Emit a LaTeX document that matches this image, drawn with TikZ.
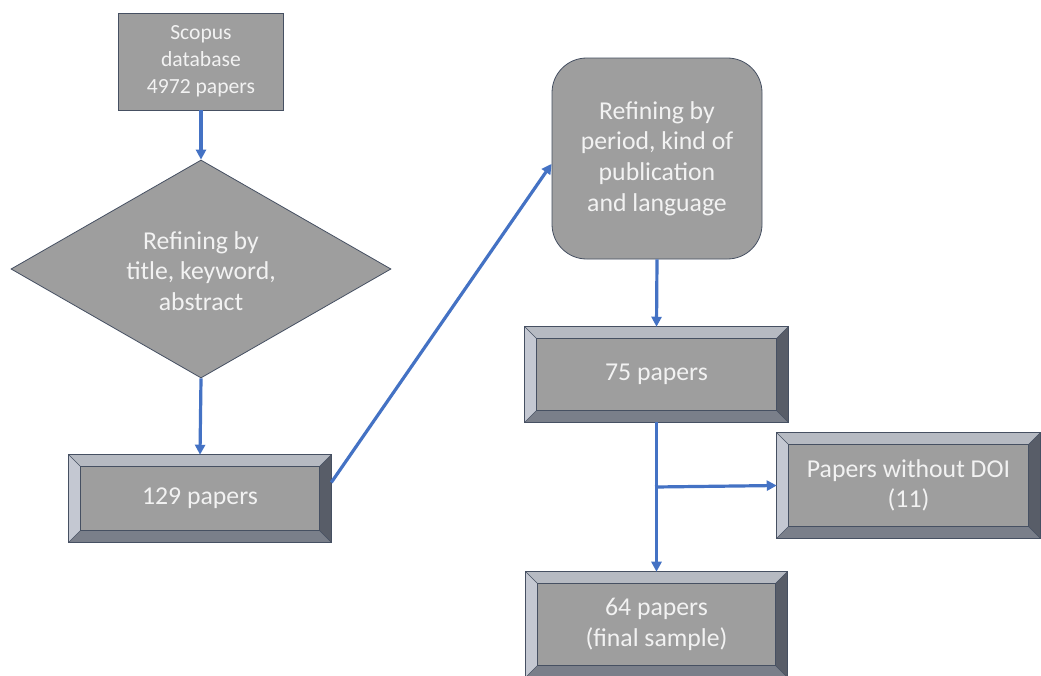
\documentclass[tikz,border=0pt]{standalone}
\usepackage{fontspec}
\setmainfont{Carlito}
\usetikzlibrary{shapes.geometric,arrows.meta}
\definecolor{face}{RGB}{158,158,158}
\definecolor{bvtop}{RGB}{182,186,194}
\definecolor{bvleft}{RGB}{196,200,210}
\definecolor{bvright}{RGB}{88,93,104}
\definecolor{bvbot}{RGB}{122,127,138}
\definecolor{edge}{RGB}{70,80,98}
\definecolor{arrowblue}{RGB}{68,114,196}
\definecolor{txt}{RGB}{242,242,242}
\newcommand{\bevelframe}[1]{%
  \fill[bvtop] (#1.north west) -- (#1.north east) -- ([shift={(-9pt,-9pt)}]#1.north east) -- ([shift={(9pt,-9pt)}]#1.north west) -- cycle;
  \fill[bvbot] (#1.south west) -- (#1.south east) -- ([shift={(-9pt,9pt)}]#1.south east) -- ([shift={(9pt,9pt)}]#1.south west) -- cycle;
  \fill[bvleft] (#1.north west) -- (#1.south west) -- ([shift={(9pt,9pt)}]#1.south west) -- ([shift={(9pt,-9pt)}]#1.north west) -- cycle;
  \fill[bvright] (#1.north east) -- (#1.south east) -- ([shift={(-9pt,9pt)}]#1.south east) -- ([shift={(-9pt,-9pt)}]#1.north east) -- cycle;
  \draw[edge,line width=0.6pt] (#1.north west) rectangle (#1.south east);
  \draw[edge,line width=0.6pt] ([shift={(9pt,-9pt)}]#1.north west) rectangle ([shift={(-9pt,9pt)}]#1.south east);
  \draw[edge,line width=0.4pt] (#1.north west) -- ([shift={(9pt,-9pt)}]#1.north west)
     (#1.north east) -- ([shift={(-9pt,-9pt)}]#1.north east)
     (#1.south west) -- ([shift={(9pt,9pt)}]#1.south west)
     (#1.south east) -- ([shift={(-9pt,9pt)}]#1.south east);
}
\tikzset{
  bigtext/.style={text=txt,font=\fontsize{19.3pt}{23pt}\selectfont,align=center},
  plainbox/.style={rectangle,fill=face,draw=edge,line width=0.6pt,inner sep=0pt,bigtext},
  bevelbox/.style={rectangle,fill=face,inner sep=0pt,bigtext},
  flow/.style={arrowblue,line width=2.4pt,-{Triangle[length=7.5pt,width=7.5pt]}},
  flowline/.style={arrowblue,line width=2.4pt}
}
\begin{document}
\begin{tikzpicture}[x=0.75pt,y=-0.75pt]
\useasboundingbox (0,0) rectangle (1041,675);
\fill[white] (0,0) rectangle (1041,675);

\node[plainbox,minimum width=165*0.75pt,minimum height=97*0.75pt,
  font=\fontsize{16.2pt}{20.3pt}\selectfont] (scopus) at (201,61.5) {Scopus\\database\\4972 papers};

\node[diamond,fill=face,draw=edge,line width=0.6pt,inner sep=0pt,
  minimum width=380*0.75pt,minimum height=218*0.75pt,bigtext] (dia) at (201,269) {};
\node[bigtext] (diatext) at (201,271) {Refining by\\title, keyword,\\abstract};

\node[bevelbox,minimum width=262*0.75pt,minimum height=87*0.75pt] (p129) at (200,498.5) {129 papers};
\bevelframe{p129}

\node[plainbox,rounded corners=26pt,minimum width=210*0.75pt,minimum height=201*0.75pt] (ref) at (657,158.5)
  {Refining by\\period, kind of\\publication\\and language};

\node[bevelbox,minimum width=263*0.75pt,minimum height=95*0.75pt] (p75) at (656.5,374.5) {75 papers};
\bevelframe{p75}

\node[bevelbox,minimum width=263*0.75pt,minimum height=105*0.75pt] (doi) at (908.5,485.5) {Papers without DOI\\(11)};
\bevelframe{doi}

\node[bevelbox,minimum width=261*0.75pt,minimum height=105*0.75pt] (p64) at (656.5,624.5) {64 papers\\(final sample)};
\bevelframe{p64}

\coordinate (br) at (655,487);

\draw[flow] (scopus.south) -- (dia.north);
\draw[flow] (dia.south) -- (p129.north);
\draw[flow] ([yshift=12pt]p129.east) -- ([yshift=-4pt]ref.west);
\draw[flow] (ref.south) -- (p75.north);
\draw[flow] (p75.south) -- (p64.north);
\draw[flow] (br) -- (doi.west);
\end{tikzpicture}
\end{document}
